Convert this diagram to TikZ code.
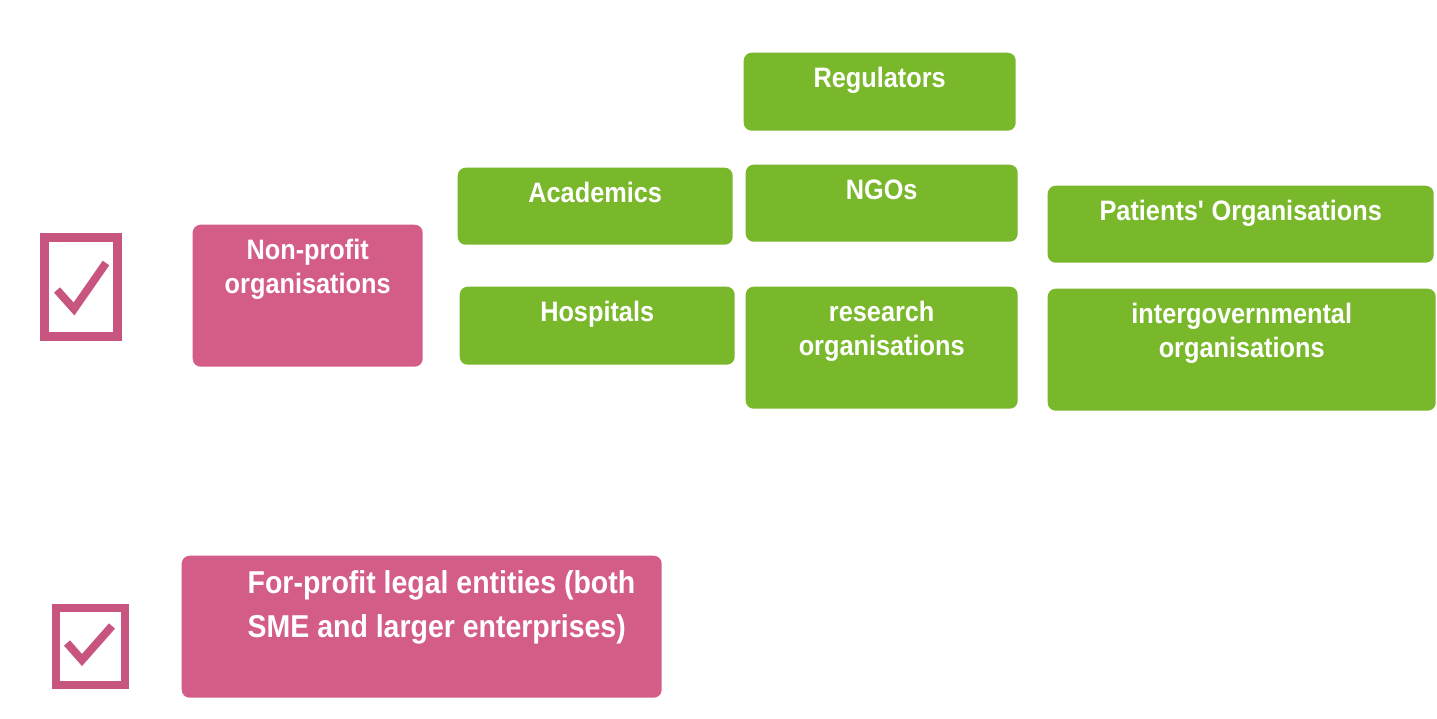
\documentclass[tikz,border=0pt]{standalone}
\usepackage{fontspec}
\setmainfont[FakeStretch=0.9]{Liberation Sans}
\definecolor{leafgreen}{RGB}{121,184,42}
\definecolor{rosepink}{RGB}{212,92,136}
\definecolor{tickpink}{RGB}{200,84,128}
\begin{document}
\begin{tikzpicture}
    \tikzstyle{tile}=[rectangle,rounded corners=0.08cm,inner sep=0pt,anchor=north west,
        align=flush center,text=white,font=\bfseries\fontsize{8}{9.5}\selectfont,text height=0.35cm]
    \tikzstyle{green tile}=[tile,fill=leafgreen]
    \tikzstyle{pink tile}=[tile,fill=rosepink]
    \tikzstyle{checkbox}=[rectangle,draw=tickpink,inner sep=0pt]
    \tikzstyle{checkmark}=[draw=tickpink,line width=0.08cm]

    % Page
    \fill[white] (0,0) rectangle (14.37,7.18);
    \useasboundingbox (0,0) rectangle (14.37,7.18);

    % Draw the check boxes
    \node[checkbox,line width=0.09cm,minimum width=0.73cm,minimum height=0.99cm] (tick1) at (0.81,4.31) {};
    \node[checkbox,line width=0.08cm,minimum width=0.69cm,minimum height=0.77cm] (tick2) at (0.905,0.715) {};
    \draw[checkmark,shift={(tick1.center)}] (-0.24,-0.03) -- (-0.07,-0.22) -- (0.25,0.24);
    \draw[checkmark,shift={(tick2.center)}] (-0.235,0.035) -- (-0.085,-0.135) -- (0.215,0.205);

    % Draw the two kinds of legal entities
    \node[pink tile,text width=2.30cm,text depth=1.07cm] (nonprofit) at (1.92,4.94) {Non-profit\\organisations};
    \node[pink tile,text width=4.80cm,text height=0.38cm,text depth=1.04cm,align=flush left,
        font=\bfseries\fontsize{9}{12.5}\selectfont] (forprofit) at (1.81,1.63)
        {\hspace*{0.66cm}For-profit legal entities (both\\\hspace*{0.66cm}SME and larger enterprises)};

    % Draw the non-profit organisations
    \node[green tile,text width=2.72cm,text depth=0.43cm] (regulators) at (7.43,6.66) {Regulators};
    \node[green tile,text width=2.75cm,text depth=0.42cm] (academics) at (4.57,5.51) {Academics};
    \node[green tile,text width=2.72cm,text depth=0.42cm] (ngos) at (7.45,5.54) {NGOs};
    \node[green tile,text width=3.86cm,text depth=0.42cm] (patients) at (10.47,5.33) {Patients\textquotesingle\ Organisations};
    \node[green tile,text width=2.75cm,text depth=0.43cm] (hospitals) at (4.59,4.32) {Hospitals};
    \node[green tile,text width=2.72cm,text depth=0.87cm] (research) at (7.45,4.32) {research\\organisations};
    \node[green tile,text width=3.88cm,text depth=0.87cm] (intergov) at (10.47,4.30) {intergovernmental\\organisations};
\end{tikzpicture}
\end{document}
